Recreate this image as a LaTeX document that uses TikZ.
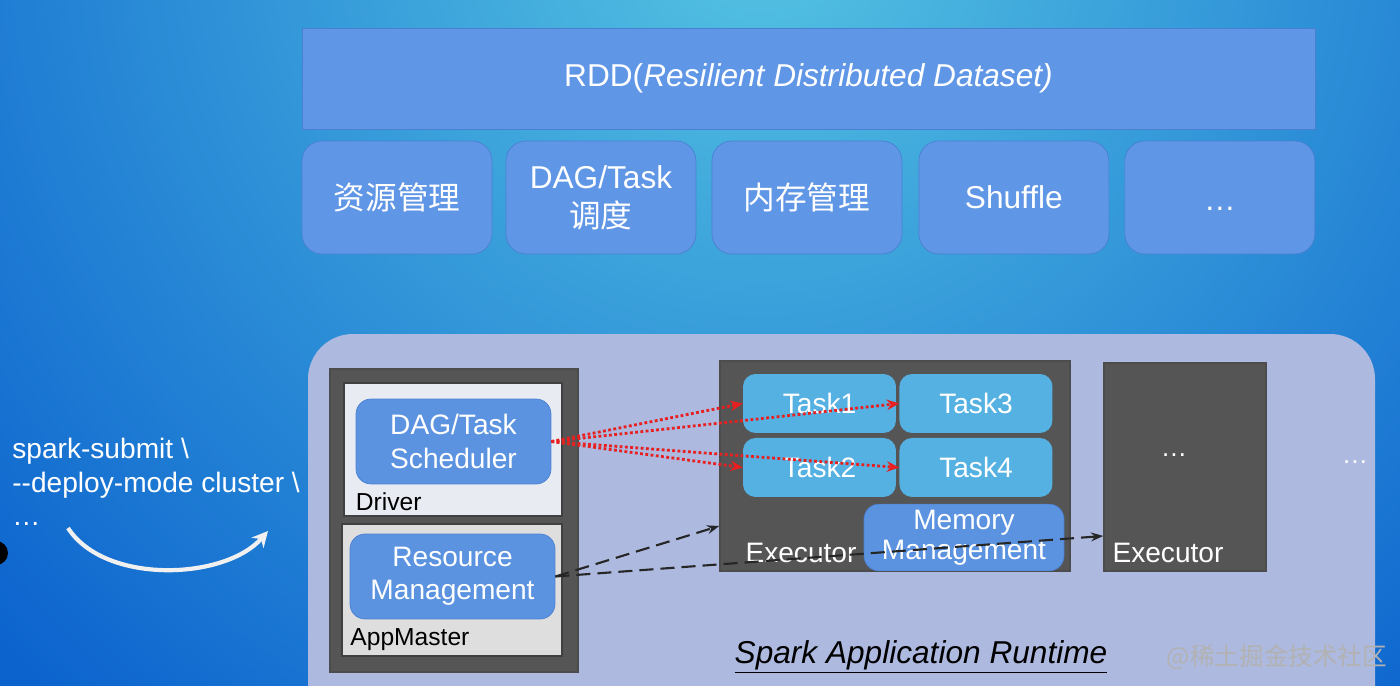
\documentclass[tikz,border=0pt]{standalone}
\usepackage{fontspec}
\setmainfont{Liberation Sans}
\newfontfamily\cjk{Noto Sans CJK SC}
\usetikzlibrary{arrows.meta,positioning}

\definecolor{bgblue}{HTML}{0C63CE}
\definecolor{bgcyan}{HTML}{55C4E2}
\definecolor{layerfill}{HTML}{6096E6}
\definecolor{layerline}{HTML}{4A80D2}
\definecolor{runtimefill}{HTML}{ADB9DF}
\definecolor{hostfill}{HTML}{555555}
\definecolor{compfill}{HTML}{5B93E0}
\definecolor{taskfill}{HTML}{56B1E3}
\definecolor{driverfill}{HTML}{E9EBF3}
\definecolor{masterfill}{HTML}{DEDEDE}
\definecolor{rpcred}{HTML}{E82020}

\begin{document}
\begin{tikzpicture}[
    x=0.02cm,
    y=-0.02cm,
    layer/.style={
        rectangle,
        draw=layerline,
        fill=layerfill,
        text=white,
        font=\fontsize{18}{22}\selectfont,
        minimum width=20.26cm,
        minimum height=2.02cm
    },
    module/.style={
        rectangle,
        rounded corners=0.4cm,
        draw=layerline,
        fill=layerfill,
        text=white,
        align=center,
        font=\fontsize{18}{22}\selectfont,
        minimum width=3.8cm,
        minimum height=2.26cm
    },
    host/.style={
        rectangle,
        draw=black!70,
        fill=hostfill,
        thick
    },
    role/.style={
        rectangle,
        draw=black!75,
        thick
    },
    comp/.style={
        rectangle,
        rounded corners=0.3cm,
        draw=layerline,
        fill=compfill,
        text=white,
        align=center,
        font=\fontsize{16}{19}\selectfont,
        minimum height=1.7cm
    },
    task/.style={
        rectangle,
        rounded corners=0.25cm,
        fill=taskfill,
        text=white,
        font=\fontsize{16}{19}\selectfont,
        minimum width=3.06cm,
        minimum height=1.18cm
    },
    caption/.style={
        anchor=south west,
        inner sep=3pt,
        font=\fontsize{14}{16}\selectfont
    },
    rpc/.style={
        -{Stealth[length=7pt,width=6pt]},
        rpcred,
        line width=1.6pt,
        dash pattern=on 1.6pt off 1.4pt
    },
    alloc/.style={
        -{Stealth[length=7pt,width=5pt]},
        black!85,
        line width=1.2pt,
        dash pattern=on 8pt off 4pt
    }
]

\useasboundingbox (0,0) rectangle (1400,686);
\clip (0,0) rectangle (1400,686);

% Background
\fill[bgblue] (0,0) rectangle (1400,686);
\shade[inner color=bgcyan, outer color=bgblue] (760,-80) circle (21cm);

% RDD and core modules
\node [layer] (rdd) at (808.5,78.5) {RDD(\textit{Resilient Distributed Dataset)}};
\node [module] (res) at (397,197.5) {\cjk 资源管理};
\node [module, right of=res, node distance=4.08cm] (dag) {DAG/Task\\{\cjk 调度}};
\node [module, right of=dag, node distance=4.12cm] (mem) {\cjk 内存管理};
\node [module, right of=mem, node distance=4.14cm] (shuffle) {Shuffle};
\node [module, right of=shuffle, node distance=4.12cm] (more) {};
\node [text=white, font=\fontsize{18}{22}\selectfont] at ([yshift=-0.22cm]more) {…};

% Runtime area
\fill[runtimefill, rounded corners=0.9cm] (308,760) rectangle (1375,334);

% Driver and AppMaster
\node [host, minimum width=4.96cm, minimum height=6.06cm] (hostbox) at (454,520.5) {};
\node [role, fill=driverfill, minimum width=4.36cm, minimum height=2.66cm] (driver) at (453,449.5) {};
\node [role, fill=masterfill, minimum width=4.4cm, minimum height=2.64cm] (master) at (452,590) {};
\node [comp, minimum width=3.9cm] (sched) at (453.5,441.5) {DAG/Task\\Scheduler};
\node [comp, minimum width=4.1cm] (resmgr) at (452.5,576.5) {Resource\\Management};
\node [caption, xshift=4pt] at (driver.south west) {Driver};
\node [caption, xshift=2pt] at (master.south west) {AppMaster};

% Executors
\node [host, minimum width=7cm, minimum height=4.2cm] (exec1) at (895,466) {};
\node [task] (task1) at (819.5,403.5) {Task1};
\node [task, right of=task1, node distance=3.13cm] (task3) {Task3};
\node [task, below of=task1, node distance=1.28cm] (task2) {Task2};
\node [task, right of=task2, node distance=3.13cm] (task4) {Task4};
\node [comp, minimum width=4cm, minimum height=1.18cm, font=\fontsize{16}{17}\selectfont] (memmgr) at (964,537.5) {Memory\\Management};
\node [text=white, font=\fontsize{16}{18}\selectfont] at (801,553) {Executor};

\node [host, minimum width=3.24cm, minimum height=4.16cm] (exec2) at (1185,467) {};
\node [text=white, font=\fontsize{15}{17}\selectfont] at (1174,455) {…};
\node [text=white, font=\fontsize{16}{18}\selectfont] at (1168,553) {Executor};
\node [text=white, font=\fontsize{15}{17}\selectfont] (others) at (1355,462) {…};

% Task dispatch
\draw [rpc] (sched.east) -- (task1.west);
\draw [rpc] (sched.east) -- (task3.west);
\draw [rpc] (sched.east) -- (task2.west);
\draw [rpc] (sched.east) -- (task4.west);

% Resource allocation
\draw [alloc] (resmgr.east) -- ([yshift=-1.2cm]exec1.west);
\draw [alloc] (resmgr.east) -- ([yshift=-1.38cm]exec2.west);

\node [font=\fontsize{18}{21}\selectfont\itshape] (runtime) at (921,657) {\underline{Spark Application Runtime}};
\node [text=black!30, font=\cjk\fontsize{14}{16}\selectfont] (mark) at (1277,657) {@稀土掘金技术社区};

% Submit command
\node [anchor=north west, align=left, text=white, font=\fontsize{16}{19}\selectfont, inner sep=0pt] (submit) at (12,438)
    {spark-submit \textbackslash\\-{}-deploy-mode cluster \textbackslash\\…};
\coordinate (arcstart) at (68,528);
\coordinate (arcend) at (268,531);
\draw [white!88!gray, line width=2.4pt, -{Stealth[length=9pt,width=9pt]}]
    (arcstart) .. controls (105,585) and (225,580) .. (arcend);
\fill [black] (-4,553) circle (12);

\end{tikzpicture}
\end{document}
